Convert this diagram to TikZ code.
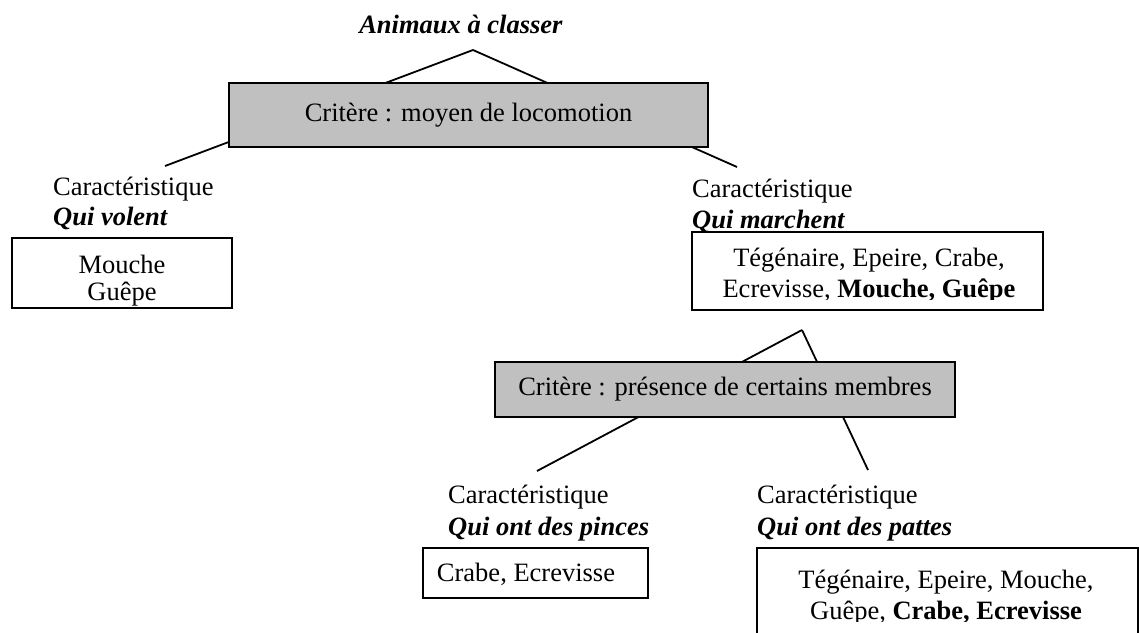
\documentclass[tikz,border=0pt]{standalone}
\usepackage{fontspec}
\setmainfont{Liberation Serif}
\definecolor{critgray}{HTML}{C0C0C0}
\begin{document}
\begin{tikzpicture}[x=1pt,y=-1pt,
  every node/.style={font=\fontsize{26.5}{31}\selectfont, inner sep=0pt},
  lbl/.style={anchor=base west},
  critbox/.style={draw, line width=1.8pt, fill=critgray},
  listbox/.style={draw, line width=1.8pt, fill=white},
  link/.style={line width=1.8pt}]
\useasboundingbox (0,0) rectangle (1139,632);
\clip (0,0) rectangle (1139,632);

% branch points and free ends of the branches
\coordinate (apexA) at (473,50);
\coordinate (flyEnd) at (165,166);
\coordinate (walkEnd) at (737,167);
\coordinate (apexB) at (802,330);
\coordinate (clawEnd) at (537,471);
\coordinate (legEnd) at (868,470);

% branches (passing under the criterion boxes)
\draw[link] (apexA) -- (flyEnd);
\draw[link] (apexA) -- (walkEnd);
\draw[link] (apexB) -- (clawEnd);
\draw[link] (apexB) -- (legEnd);

% title
\node[anchor=base] (title) at (461,33) {\textbf{\textit{Animaux à classer}}};

% first criterion
\node[critbox, minimum width=479pt, minimum height=64pt] (critA) at (468.5,115)
  {Critère : moyen de locomotion};

% flying animals
\node[lbl] (flyCar) at (53,195) {Caractéristique};
\node[lbl] (flyQual) at (53,225) {\textbf{\textit{Qui volent}}};
\node[listbox, minimum width=220pt, minimum height=70pt] (flyBox) at (122,273) {};
\node[align=center, anchor=base] (flyList) at (122,300) {Mouche\\[-4pt]Guêpe};

% walking animals
\node[lbl] (walkCar) at (692,197) {Caractéristique};
\node[lbl] (walkQual) at (692,228) {\textbf{\textit{Qui marchent}}};
\node[listbox, minimum width=351pt, minimum height=78pt] (walkBox) at (867.5,271) {};
\begin{scope}
  \clip (694,233) rectangle (1042,299);
  \node[align=center, anchor=base] (walkList) at (869,297)
    {Tégénaire, Epeire, Crabe,\\Ecrevisse, \textbf{Mouche, Guêpe}};
\end{scope}

% second criterion
\node[critbox, minimum width=460pt, minimum height=55pt] (critB) at (725,389.5)
  {Critère : présence de certains membres};

% animals with pincers
\node[lbl] (clawCar) at (448,503) {Caractéristique};
\node[lbl] (clawQual) at (448,535) {\textbf{\textit{Qui ont des pinces}}};
\node[listbox, minimum width=225pt, minimum height=50pt] (clawBox) at (535.5,573) {};
\node[anchor=base] (clawList) at (526,581) {Crabe, Ecrevisse};

% animals with legs
\node[lbl] (legCar) at (757,503) {Caractéristique};
\node[lbl] (legQual) at (757,535) {\textbf{\textit{Qui ont des pattes}}};
\node[listbox, minimum width=381pt, minimum height=100pt] (legBox) at (947.5,598) {};
\begin{scope}
  \clip (759,549) rectangle (1137,621);
  \node[align=center, anchor=base] (legList) at (946,619)
    {Tégénaire, Epeire, Mouche,\\Guêpe, \textbf{Crabe, Ecrevisse}};
\end{scope}
\end{tikzpicture}
\end{document}
